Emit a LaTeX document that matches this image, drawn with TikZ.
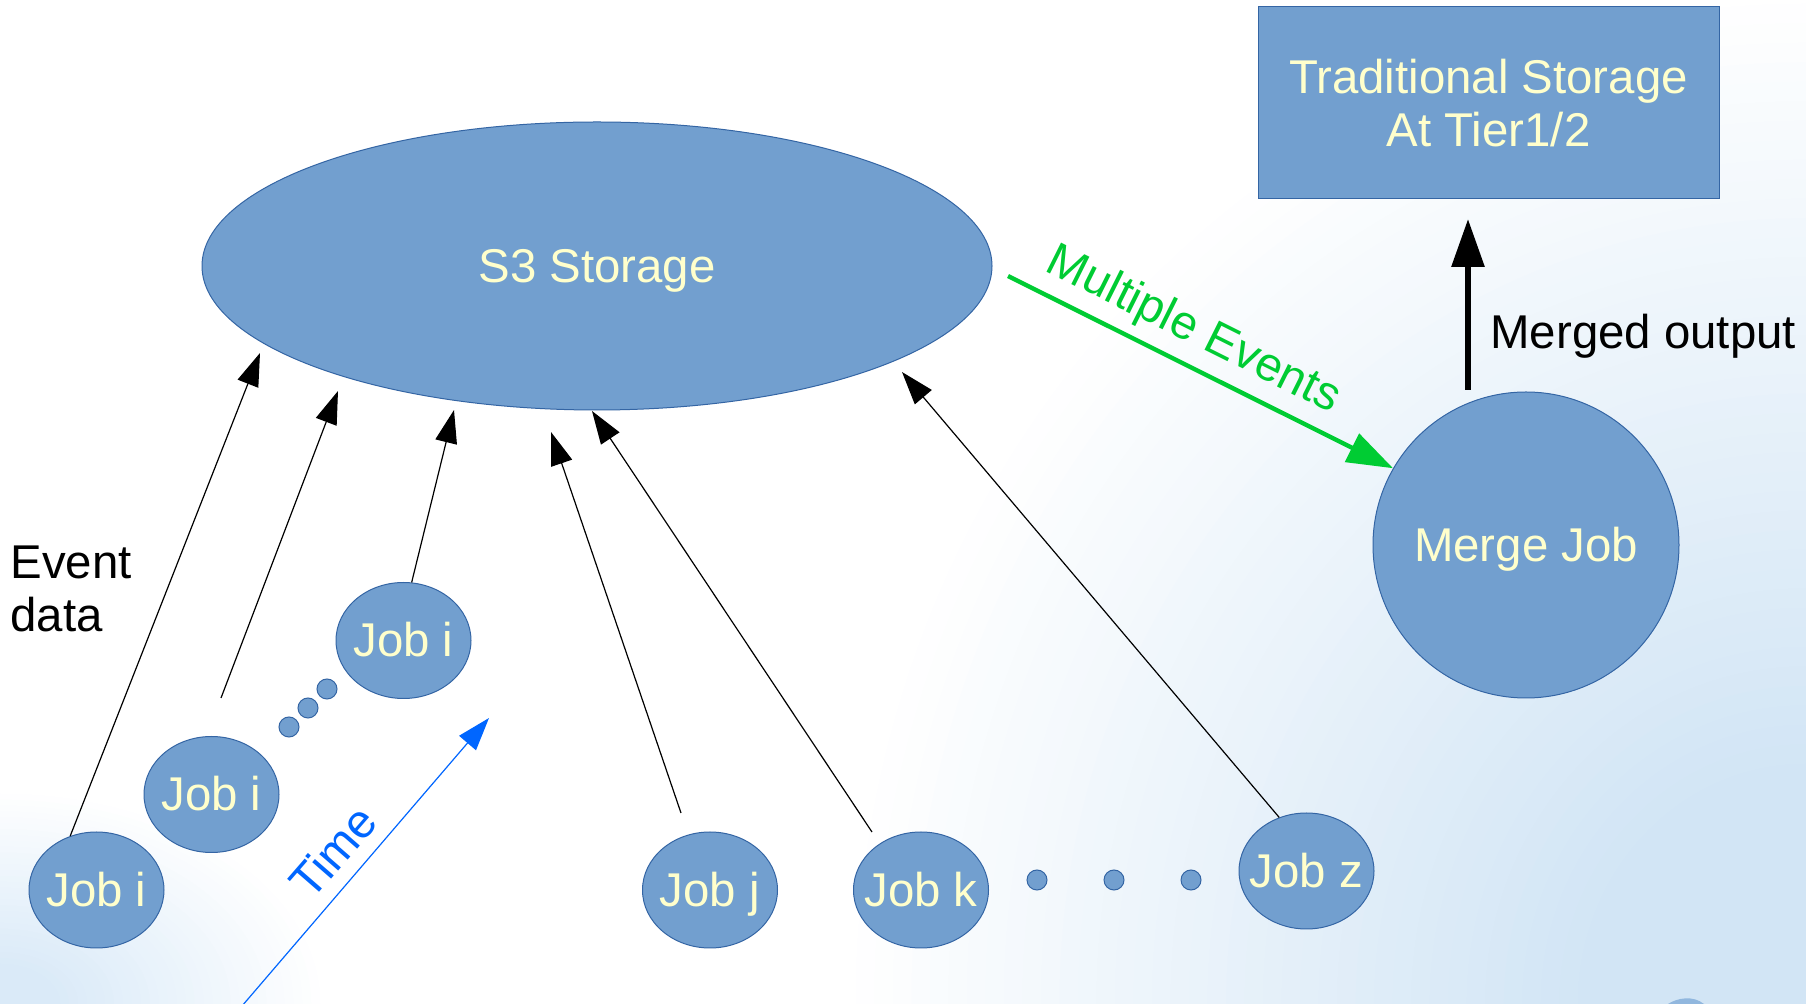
\documentclass[tikz,border=0pt]{standalone}
\usepackage{fontspec}
\setmainfont{Liberation Sans}
\usetikzlibrary{shapes.geometric,arrows.meta}
\definecolor{shapefill}{HTML}{729FCF}
\definecolor{shapeline}{HTML}{3465A4}
\definecolor{paletext}{HTML}{FFFFCC}
\definecolor{evgreen}{HTML}{00CC33}
\definecolor{timeblue}{HTML}{0066FF}
\definecolor{bgblue}{RGB}{210,229,245}
\definecolor{bgblueb}{RGB}{218,234,248}
\definecolor{swooshblue}{RGB}{145,183,222}
\begin{document}
\begin{tikzpicture}[x=0.5pt,y=-0.5pt,
  txt/.style={font=\fontsize{23.7}{26.5}\selectfont, inner sep=0pt},
  oneline/.style={text height=21.5pt, text depth=5pt},
  shapebase/.style={draw=shapeline, line width=0.5pt, fill=shapefill, text=paletext, txt},
  job/.style={shapebase, ellipse, oneline, minimum width=67.5pt, minimum height=58pt},
  dot/.style={circle, draw=shapeline, line width=0.5pt, fill=shapefill, inner sep=0pt, minimum size=10pt},
  thinarrow/.style={line width=0.6pt, -{Triangle[length=16.5pt,width=11pt]}},
  greenarrow/.style={draw=evgreen, line width=2.2pt, -{Triangle[length=23pt,width=15.5pt]}},
  thickarrow/.style={line width=3pt, -{Triangle[length=24pt,width=16pt]}},
  timearrow/.style={draw=timeblue, line width=0.6pt, -{Triangle[length=16.5pt,width=11pt]}}
]
\path[use as bounding box] (0,0) rectangle (1806,1004);
% background
\fill[white] (0,0) rectangle (1806,1004);
\begin{scope}
  \clip (0,0) rectangle (1806,1004);
  \foreach \k in {0,...,39}{
    \pgfmathsetmacro{\rx}{475 - 361*\k/39}
    \pgfmathsetmacro{\ry}{500 - 380*\k/39}
    \pgfmathsetmacro{\pc}{100*(\k+1)/40}
    \fill[bgblue!\pc!white] (1806,1004) ellipse [x radius=\rx pt, y radius=\ry pt];
  }
  \foreach \k in {0,...,29}{
    \pgfmathsetmacro{\rx}{160 - 130*\k/29}
    \pgfmathsetmacro{\ry}{105 - 85*\k/29}
    \pgfmathsetmacro{\pc}{100*(\k+1)/30}
    \fill[bgblueb!\pc!white] (0,1004) ellipse [x radius=\rx pt, y radius=\ry pt];
  }
  \fill[swooshblue] (1668,1004) .. controls (1677,998) and (1693,995) .. (1704,1004) -- cycle;
\end{scope}

% main shapes
\node[shapebase, ellipse, oneline, minimum width=395pt, minimum height=144pt] (s3) at (597,266) {\makebox[0pt]{S3 Storage}};
\node[shapebase, rectangle, align=center, minimum width=230.5pt, minimum height=96pt] (trad) at (1488.5,103) {Traditional Storage\\At Tier1/2};
\node[shapebase, circle, oneline, minimum size=153pt] (merge) at (1526,545) {\makebox[0pt]{Merge Job}};

% jobs
\node[job] (j1) at (96.5,890) {\makebox[0pt]{Job i}};
\node[job] (j2) at (211.5,794.5) {\makebox[0pt]{Job i}};
\node[job] (j3) at (403.5,640.5) {\makebox[0pt]{Job i}};
\node[job] (jj) at (710,890) {\makebox[0pt]{Job j}};
\node[job] (jk) at (921,890) {\makebox[0pt]{Job k}};
\node[job] (jz) at (1306.5,871) {\makebox[0pt]{Job z}};

% dots
\node[dot] (da) at (289,727) {};
\node[dot] (db) at (308,708) {};
\node[dot] (dc) at (327,689) {};
\node[dot] (dd) at (1037,880) {};
\node[dot] (de) at (1114,880) {};
\node[dot] (df) at (1191,880) {};

% labels
\node[txt, align=left, anchor=west] (ev) at (10,589) {Event\\data};
\node[txt, oneline, anchor=west] (mo) at (1490,332) {Merged output};
\node[txt, oneline, text=evgreen, rotate=-26.5] (me) at (1195,327) {Multiple Events};
\node[txt, oneline, text=timeblue, rotate=49] (tm) at (333,852) {Time};

% free ends
\coordinate (t1) at (260,353);
\coordinate (t2) at (338,391);
\coordinate (t3) at (454,410);
\coordinate (t4) at (551,432);
\coordinate (t5) at (592,411);
\coordinate (t6) at (902,372);
\coordinate (c2) at (221,698);
\coordinate (c4) at (681,813);
\coordinate (c5) at (872,832);
\coordinate (ge) at (1008,276);
\coordinate (mo1) at (1468,390);
\coordinate (mo2) at (1468,219);
\coordinate (tb) at (242,1006);
\coordinate (tt) at (489,718);

% connectors
\draw[thinarrow] (j1.116) -- (t1);
\draw[thinarrow] (c2) -- (t2);
\draw[thinarrow] (j3.82) -- (t3);
\draw[thinarrow] (c4) -- (t4);
\draw[thinarrow] (c5) -- (t5);
\draw[thinarrow] (jz.117) -- (t6);
\draw[greenarrow] (ge) -- (merge.150);
\draw[thickarrow] (mo1) -- (mo2);
\draw[timearrow] (tb) -- (tt);
\end{tikzpicture}
\end{document}
